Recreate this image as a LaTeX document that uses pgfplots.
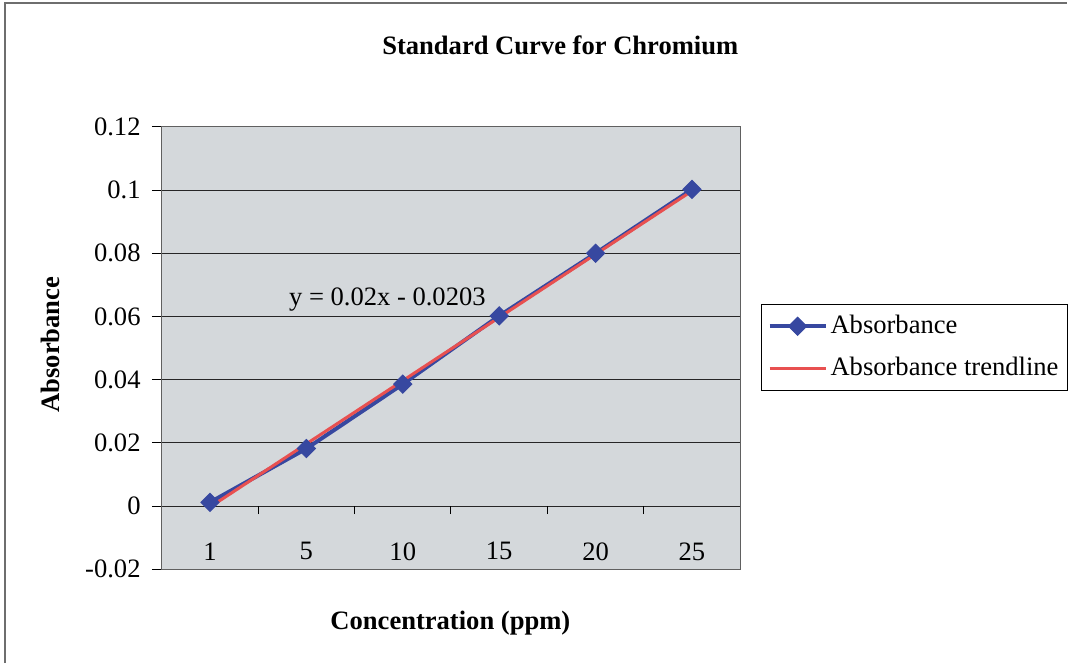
\documentclass[border=0pt]{standalone}
\usepackage{pgfplots}
\pgfplotsset{compat=1.18}
\usepackage{fontspec}
\setmainfont{Liberation Serif}
\definecolor{exblue}{RGB}{55,72,160}
\definecolor{exred}{RGB}{232,80,80}
\definecolor{plotbg}{RGB}{212,216,219}
\definecolor{frame}{RGB}{110,110,110}
\begin{document}
\fontsize{13.3}{16}\selectfont
\begin{tikzpicture}
\begin{scope}[x=0.5pt,y=0.5pt]
\fill[white] (0,0) rectangle (1068,664);
\draw[frame, line width=0.8pt] (5,0) -- (5,661) -- (1068,661);
\end{scope}
\begin{axis}[
  at={(81pt,47pt)}, anchor=south west, scale only axis,
  width=289.5pt, height=221.5pt,
  xmin=0.5, xmax=6.5, ymin=-0.02, ymax=0.12,
  axis background/.style={fill=plotbg},
  axis line style={draw=gray!75!black, line width=0.6pt},
  xtick={1,2,3,4,5,6}, xticklabels={1,5,10,15,20,25},
  ytick={-0.02,0,0.02,0.04,0.06,0.08,0.1,0.12},
  yticklabels={-0.02,0,0.02,0.04,0.06,0.08,0.1,0.12},
  ytick pos=left,
  tick align=outside, major tick length=5pt,
  x tick style={draw=none},
  y tick style={black, line width=0.5pt},
  ymajorgrids, major grid style={black!85, line width=0.5pt},
  xticklabel style={anchor=center, yshift=14pt},
  yticklabel style={anchor=east, xshift=-1pt},
  xlabel={\textbf{Concentration (ppm)}},
  xlabel style={at={(axis description cs:0.499,-0.122)}, anchor=center},
  ylabel={\textbf{Absorbance}},
  ylabel style={at={(axis description cs:-0.1934,0.508)}, anchor=center, rotate=0},
  legend style={at={(axis description cs:1.0363,0.6005)}, anchor=north west,
    draw=black, line width=0.5pt, fill=white, inner xsep=3pt, inner ysep=4pt,
    row sep=7pt, nodes={inner sep=1.5pt}},
  legend cell align=left,
  legend image code/.code={\draw[mark repeat=2,mark phase=2,#1] plot coordinates {(0pt,0pt) (14pt,0pt) (28pt,0pt)};},
  clip=false,
]
\addplot[exblue, line width=2pt, mark=square*, mark size=3.2pt, mark options={rotate=45, line width=0.5pt}]
  coordinates {(1,0.0012) (2,0.0182) (3,0.0386) (4,0.0602) (5,0.0800) (6,0.1002)};
\addlegendentry{Absorbance}
\addplot[exred, line width=1.5pt]
  coordinates {(1,-0.0003) (6,0.0997)};
\addlegendentry{Absorbance trendline}
\node[anchor=center] at (axis cs:2.84,0.0655) {y = 0.02x - 0.0203};
\node[anchor=center] at (axis description cs:0.689,1.185) {\textbf{Standard Curve for Chromium}};
\end{axis}
\begin{axis}[
  at={(81pt,47pt)}, anchor=south west, scale only axis,
  width=289.5pt, height=221.5pt,
  xmin=0.5, xmax=6.5, ymin=-0.02, ymax=0.12,
  axis x line=middle, axis y line=none,
  x axis line style={draw=none},
  xtick={1.5,2.5,3.5,4.5,5.5}, xticklabels={},
  tick align=outside, major tick length=4pt,
  x tick style={black, line width=0.5pt},
]
\end{axis}
\end{tikzpicture}
\end{document}
